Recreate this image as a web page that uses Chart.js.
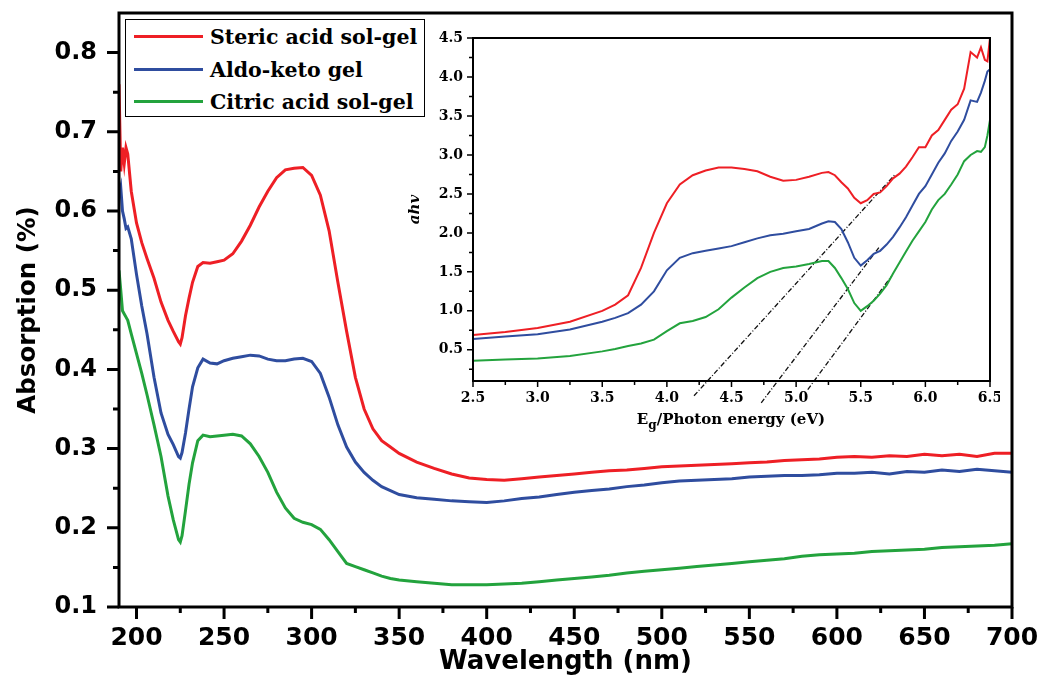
<!DOCTYPE html>
<html>
<head>
<meta charset="utf-8">
<script src="https://cdn.jsdelivr.net/npm/chart.js@4.4.1/dist/chart.umd.min.js"></script>
<style>
    body { margin: 0; background: #fff; }
    #wrap { position: relative; width: 1041px; height: 680px; overflow: hidden; }
    #mainChart { position: absolute; left: 0; top: 0; }
    #insetChart { position: absolute; left: 395px; top: 25px; }
    #legend {
        position: absolute; left: 125px; top: 19px; width: 300px; height: 98px;
        box-sizing: border-box; border: 1.5px solid #000; background: #fff;
        font: bold 20.5px 'DejaVu Serif', serif; color: #000;
    }
    #legend .row { position: absolute; left: 0; height: 24px; line-height: 24px; white-space: nowrap; }
    #legend .swatch { position: absolute; left: 8px; top: 10px; width: 69px; height: 3px; }
    #legend .label { position: absolute; left: 84px; top: 0; }
    #insetXTitle {
        position: absolute; left: 631px; width: 200px; top: 410px; text-align: center;
        font: bold 15px 'DejaVu Serif', serif; color: #000; white-space: nowrap;
    }
    #insetXTitle sub { font-size: 12px; vertical-align: -5px; line-height: 0; }
</style>
</head>
<body>
<div id="wrap">
    <canvas id="mainChart" width="1041" height="680"></canvas>
    <canvas id="insetChart" width="605" height="420"></canvas>
    <div id="legend">
        <div class="row" style="top:5px"><span class="swatch" style="background:#ee1f25"></span><span class="label">Steric acid sol-gel</span></div>
        <div class="row" style="top:38px"><span class="swatch" style="background:#2f4d9f"></span><span class="label">Aldo-keto gel</span></div>
        <div class="row" style="top:70px"><span class="swatch" style="background:#23a33d"></span><span class="label">Citric acid sol-gel</span></div>
    </div>
    <div id="insetXTitle">E<sub>g</sub>/Photon energy (eV)</div>
</div>
<script>
// ---- main spectrum: absorption vs wavelength (nm)
const wavelengths = [190, 191, 192, 193, 194, 195, 197, 200, 203, 206, 210, 214, 218, 221, 224, 225, 226, 228, 230, 232,
    235, 238, 242, 246, 250, 255, 260, 265, 270, 275, 280, 285, 290, 295, 300, 305, 310, 315, 320, 325,
    330, 335, 340, 345, 350, 360, 370, 380, 390, 400, 410, 420, 430, 440, 450, 460, 470, 480, 490, 500,
    510, 520, 530, 540, 550, 560, 570, 580, 590, 600, 610, 620, 630, 640, 650, 660, 670, 680, 690, 700];

const stericAbs = [0.76, 0.65, 0.68, 0.66, 0.68, 0.672, 0.625, 0.585, 0.56, 0.54, 0.515, 0.485, 0.462, 0.448, 0.435, 0.432, 0.44, 0.468, 0.49, 0.51,
    0.53, 0.535, 0.534, 0.536, 0.538, 0.546, 0.562, 0.582, 0.605, 0.625, 0.642, 0.652, 0.654, 0.655, 0.645, 0.62, 0.575, 0.51, 0.448, 0.39,
    0.35, 0.325, 0.31, 0.302, 0.294, 0.283, 0.275, 0.268, 0.263, 0.261, 0.26, 0.262, 0.264, 0.266, 0.268, 0.27, 0.272, 0.273, 0.275, 0.277,
    0.278, 0.279, 0.28, 0.281, 0.282, 0.283, 0.285, 0.286, 0.287, 0.289, 0.29, 0.289, 0.291, 0.29, 0.293, 0.291, 0.293, 0.29, 0.294, 0.294];

const aldoAbs = [0.62, 0.63, 0.6, 0.59, 0.578, 0.58, 0.565, 0.52, 0.48, 0.445, 0.39, 0.345, 0.318, 0.305, 0.29, 0.288, 0.295, 0.32, 0.35, 0.378,
    0.402, 0.413, 0.408, 0.407, 0.411, 0.414, 0.416, 0.418, 0.417, 0.413, 0.411, 0.411, 0.413, 0.414, 0.41, 0.395, 0.365, 0.33, 0.302, 0.283,
    0.27, 0.26, 0.252, 0.247, 0.242, 0.238, 0.236, 0.234, 0.233, 0.232, 0.234, 0.237, 0.239, 0.242, 0.245, 0.247, 0.249, 0.252, 0.254, 0.257,
    0.259, 0.26, 0.261, 0.262, 0.264, 0.265, 0.266, 0.266, 0.267, 0.269, 0.269, 0.27, 0.268, 0.271, 0.27, 0.273, 0.271, 0.274, 0.272, 0.27];

const citricAbs = [0.525, 0.5, 0.474, 0.47, 0.466, 0.462, 0.445, 0.42, 0.395, 0.368, 0.33, 0.29, 0.24, 0.21, 0.185, 0.182, 0.19, 0.222, 0.255, 0.282,
    0.31, 0.317, 0.315, 0.316, 0.317, 0.318, 0.316, 0.306, 0.29, 0.27, 0.245, 0.225, 0.212, 0.207, 0.204, 0.198, 0.185, 0.17, 0.155, 0.151,
    0.147, 0.143, 0.139, 0.136, 0.134, 0.132, 0.13, 0.128, 0.128, 0.128, 0.129, 0.13, 0.132, 0.134, 0.136, 0.138, 0.14, 0.143, 0.145, 0.147,
    0.149, 0.151, 0.153, 0.155, 0.157, 0.159, 0.161, 0.164, 0.166, 0.167, 0.168, 0.17, 0.171, 0.172, 0.173, 0.175, 0.176, 0.177, 0.178, 0.18];

const mainXTicks = [200, 250, 300, 350, 400, 450, 500, 550, 600, 650, 700];
const mainXMinor = [225, 275, 325, 375, 425, 475, 525, 575, 625, 675];
const mainYTicks = [0.1, 0.2, 0.3, 0.4, 0.5, 0.6, 0.7, 0.8];
const mainYMinor = [0.15, 0.25, 0.35, 0.45, 0.55, 0.65, 0.75];

// ---- inset: ahv vs photon energy (eV)
const photonEnergy = [2.5, 2.75, 3.0, 3.25, 3.5, 3.6, 3.7, 3.8, 3.9, 4.0, 4.1, 4.2, 4.3, 4.4, 4.5, 4.6, 4.7, 4.8, 4.9, 5.0,
    5.1, 5.2, 5.25, 5.3, 5.35, 5.4, 5.45, 5.5, 5.55, 5.6, 5.65, 5.7, 5.75, 5.8, 5.85, 5.9, 5.95, 6.0, 6.05, 6.1,
    6.15, 6.2, 6.25, 6.3, 6.35, 6.4, 6.43, 6.46, 6.48, 6.5];

const stericAhv = [0.69, 0.73, 0.78, 0.86, 1.0, 1.08, 1.2, 1.55, 2.0, 2.38, 2.62, 2.74, 2.8, 2.84, 2.84, 2.82, 2.79, 2.72, 2.67, 2.68,
    2.72, 2.77, 2.78, 2.74, 2.65, 2.57, 2.45, 2.38, 2.42, 2.5, 2.52, 2.6, 2.7, 2.76, 2.85, 2.97, 3.1, 3.1, 3.25, 3.32,
    3.45, 3.58, 3.65, 3.85, 4.32, 4.25, 4.38, 4.22, 4.2, 4.5];

const aldoAhv = [0.64, 0.67, 0.7, 0.76, 0.86, 0.91, 0.97, 1.08, 1.25, 1.52, 1.68, 1.74, 1.77, 1.8, 1.83, 1.88, 1.93, 1.97, 1.99, 2.02,
    2.05, 2.12, 2.15, 2.14, 2.05, 1.88, 1.68, 1.58, 1.65, 1.73, 1.77, 1.85, 1.95, 2.07, 2.2, 2.35, 2.5, 2.6, 2.75, 2.9,
    3.02, 3.18, 3.3, 3.45, 3.7, 3.68, 3.8, 3.95, 4.07, 4.1];

const citricAhv = [0.36, 0.375, 0.39, 0.42, 0.48, 0.51, 0.55, 0.58, 0.63, 0.74, 0.84, 0.87, 0.92, 1.02, 1.17, 1.3, 1.42, 1.5, 1.55, 1.57,
    1.6, 1.64, 1.64, 1.55, 1.42, 1.28, 1.1, 1.0, 1.06, 1.13, 1.22, 1.33, 1.48, 1.62, 1.76, 1.9, 2.02, 2.14, 2.3, 2.42,
    2.5, 2.62, 2.75, 2.92, 3.0, 3.05, 3.04, 3.1, 3.25, 3.45];

// tangent (band gap) lines: [start, end]
const stericTangentX = [4.21, 5.76];
const stericTangentY = [-0.09, 2.74];
const aldoTangentX = [4.73, 5.64];
const aldoTangentY = [-0.18, 1.81];
const citricTangentX = [5.09, 5.74];
const citricTangentY = [-0.01, 1.45];

const insetXTicks = [2.5, 3.0, 3.5, 4.0, 4.5, 5.0, 5.5, 6.0, 6.5];
const insetXMinor = [2.75, 3.25, 3.75, 4.25, 4.75, 5.25, 5.75, 6.25];
const insetYTicks = [0.5, 1.0, 1.5, 2.0, 2.5, 3.0, 3.5, 4.0, 4.5];
const insetYMinor = [0.25, 0.75, 1.25, 1.75, 2.25, 2.75, 3.25, 3.75, 4.25];

const RED = '#ee1f25';
const BLUE = '#2f4d9f';
const GREEN = '#23a33d';

const toPoints = (xs, ys) => xs.map((x, i) => ({ x: x, y: ys[i] }));

// fixed axis size, no automatic label padding (layout.padding places the plot box)
const fixSize = (prop, size) => s => {
    s[prop] = size;
    s.paddingTop = 0; s.paddingBottom = 0; s.paddingLeft = 0; s.paddingRight = 0;
};

// frame + outward ticks (major and minor), drawn from the chart scales
function frameTicks(cfg) {
    return {
        id: 'frameTicks',
        afterDatasetsDraw(chart) {
            const { ctx, chartArea: a, scales: { x, y } } = chart;
            ctx.save();
            ctx.strokeStyle = '#000';
            ctx.lineWidth = cfg.tickWidth;
            ctx.beginPath();
            cfg.xMajor.forEach(v => { const p = x.getPixelForValue(v); ctx.moveTo(p, a.bottom); ctx.lineTo(p, a.bottom + cfg.majorLen); });
            cfg.xMinor.forEach(v => { const p = x.getPixelForValue(v); ctx.moveTo(p, a.bottom); ctx.lineTo(p, a.bottom + cfg.minorLen); });
            cfg.yMajor.forEach(v => { const p = y.getPixelForValue(v); ctx.moveTo(a.left, p); ctx.lineTo(a.left - cfg.majorLen, p); });
            cfg.yMinor.forEach(v => { const p = y.getPixelForValue(v); ctx.moveTo(a.left, p); ctx.lineTo(a.left - cfg.minorLen, p); });
            ctx.stroke();
            ctx.lineWidth = cfg.frameWidth;
            ctx.strokeRect(a.left, a.top, a.right - a.left, a.bottom - a.top);
            ctx.restore();
        }
    };
}

const mainFont = { family: "'DejaVu Sans', sans-serif", weight: 'bold' };

new Chart(document.getElementById('mainChart'), {
    type: 'line',
    data: {
        datasets: [
            { label: 'Steric acid sol-gel', data: toPoints(wavelengths, stericAbs), borderColor: RED },
            { label: 'Aldo-keto gel', data: toPoints(wavelengths, aldoAbs), borderColor: BLUE },
            { label: 'Citric acid sol-gel', data: toPoints(wavelengths, citricAbs), borderColor: GREEN }
        ]
    },
    options: {
        responsive: false,
        animation: false,
        layout: { padding: { top: 13, right: 29, left: 0, bottom: 0 } },
        elements: { point: { radius: 0 }, line: { borderWidth: 3, tension: 0 } },
        plugins: { legend: { display: false }, tooltip: { enabled: false } },
        scales: {
            x: {
                type: 'linear', min: 190, max: 700,
                afterBuildTicks: s => { s.ticks = mainXTicks.map(v => ({ value: v })); },
                afterFit: fixSize('height', 73),
                grid: { display: false, drawTicks: false },
                border: { display: false },
                ticks: { color: '#000', padding: 16, maxRotation: 0, font: { ...mainFont, size: 25 } },
                title: { display: true, text: 'Wavelength (nm)', color: '#000', padding: { top: 0, bottom: 2 }, font: { ...mainFont, size: 26 } }
            },
            y: {
                type: 'linear', min: 0.1, max: 0.85,
                afterBuildTicks: s => { s.ticks = mainYTicks.map(v => ({ value: v })); },
                afterFit: fixSize('width', 119),
                grid: { display: false, drawTicks: false },
                border: { display: false },
                ticks: { color: '#000', padding: 22, callback: v => v.toFixed(1), font: { ...mainFont, size: 24 } },
                title: { display: true, text: 'Absorption (%)', color: '#000', padding: { top: 14, bottom: 0 }, font: { ...mainFont, size: 24.5 } }
            }
        }
    },
    plugins: [frameTicks({ xMajor: mainXTicks, xMinor: mainXMinor, yMajor: mainYTicks, yMinor: mainYMinor, majorLen: 12, minorLen: 6, tickWidth: 3, frameWidth: 3 })]
});

const insetFont = { family: "'DejaVu Serif', serif", weight: 'bold' };
const tangentStyle = { borderColor: '#111', borderWidth: 1.3, borderDash: [5, 2, 1, 2], clip: false };

new Chart(document.getElementById('insetChart'), {
    type: 'line',
    data: {
        datasets: [
            { data: toPoints(photonEnergy, stericAhv), borderColor: RED },
            { data: toPoints(photonEnergy, aldoAhv), borderColor: BLUE },
            { data: toPoints(photonEnergy, citricAhv), borderColor: GREEN },
            { data: toPoints(stericTangentX, stericTangentY), ...tangentStyle },
            { data: toPoints(aldoTangentX, aldoTangentY), ...tangentStyle },
            { data: toPoints(citricTangentX, citricTangentY), ...tangentStyle }
        ]
    },
    options: {
        responsive: false,
        animation: false,
        layout: { padding: { top: 13, right: 10, left: 0, bottom: 0 } },
        elements: { point: { radius: 0 }, line: { borderWidth: 2, tension: 0 } },
        plugins: { legend: { display: false }, tooltip: { enabled: false } },
        scales: {
            x: {
                type: 'linear', min: 2.5, max: 6.5,
                afterBuildTicks: s => { s.ticks = insetXTicks.map(v => ({ value: v })); },
                afterFit: fixSize('height', 64),
                grid: { display: false, drawTicks: false },
                border: { display: false },
                ticks: { color: '#000', padding: 9, maxRotation: 0, callback: v => v.toFixed(1), font: { ...insetFont, size: 14 } },
                title: { display: false }
            },
            y: {
                type: 'linear', min: 0.1, max: 4.5,
                afterBuildTicks: s => { s.ticks = insetYTicks.map(v => ({ value: v })); },
                afterFit: fixSize('width', 78),
                grid: { display: false, drawTicks: false },
                border: { display: false },
                ticks: { color: '#000', padding: 10, callback: v => v.toFixed(1), font: { ...insetFont, size: 14 } },
                title: { display: true, text: 'ahv', color: '#000', padding: { top: 11, bottom: 0 }, font: { ...insetFont, size: 15, style: 'italic' } }
            }
        }
    },
    plugins: [frameTicks({ xMajor: insetXTicks, xMinor: insetXMinor, yMajor: insetYTicks, yMinor: insetYMinor, majorLen: 6, minorLen: 4, tickWidth: 1.5, frameWidth: 2 })]
});
</script>
</body>
</html>
